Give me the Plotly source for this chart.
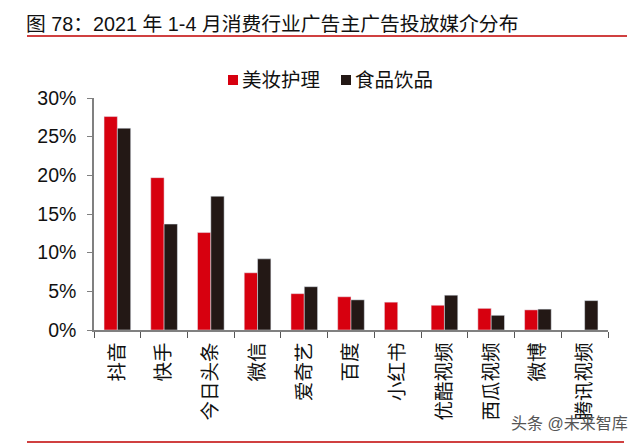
import plotly.graph_objects as go

categories = ["抖音", "快手", "今日头条", "微信", "爱奇艺", "百度", "小红书", "优酷视频", "西瓜视频", "微博", "腾讯视频"]
meizhuang = [27.6, 19.7, 12.6, 7.4, 4.7, 4.3, 3.6, 3.2, 2.8, 2.6, None]
shipin = [26.1, 13.7, 17.3, 9.2, 5.6, 3.9, None, 4.5, 1.9, 2.7, 3.8]
y_ticks = [0, 5, 10, 15, 20, 25, 30]
y_labels = ["0%", "5%", "10%", "15%", "20%", "25%", "30%"]
series_names = ["美妆护理", "食品饮品"]
RED = "#d7000f"
BLACK = "#231815"

W, H = 640, 443
PAGE = 8  # page body margin pushes the figure right and down
CJK = "Liberation Sans, Noto Sans CJK SC"

def px(x):
    return (x - PAGE) / W

def py(y):
    return 1 - (y - PAGE) / H

fig = go.Figure()
fig.add_trace(go.Bar(name=series_names[0], x=categories, y=meizhuang, marker_color=RED))
fig.add_trace(go.Bar(name=series_names[1], x=categories, y=shipin, marker_color=BLACK))

fig.update_layout(
    width=W, height=H,
    margin=dict(l=0, r=0, t=0, b=0),
    paper_bgcolor="white", plot_bgcolor="white",
    barmode="group", bargap=0.43, bargroupgap=0,
    font=dict(family=CJK, color="#111111"),
    showlegend=False,
)
fig.update_xaxes(domain=[px(94), px(608)], automargin=False, showline=True, linecolor="#808080", linewidth=1.5,
                 ticks="outside", tickson="boundaries", ticklen=6, tickcolor="#555555",
                 tickangle=-90, tickfont=dict(size=19.5), ticklabelstandoff=3, showgrid=False)
fig.update_yaxes(domain=[py(330), py(98)], automargin=False, range=[0, 30], tickvals=y_ticks, ticktext=y_labels,
                 showline=True, linecolor="#808080", linewidth=1.5, ticks="outside", ticklen=5,
                 tickcolor="#808080", tickfont=dict(size=19.5), ticklabelstandoff=7, showgrid=False, zeroline=False)

# legend drawn by hand, plotly keeps too wide a gap between swatch and text
for name, color, x_sw in zip(series_names, [RED, BLACK], [228, 341]):
    fig.add_shape(type="rect", xref="paper", yref="paper", x0=px(x_sw), x1=px(x_sw+10),
                  y0=py(85), y1=py(75), fillcolor=color, line_width=0)
    fig.add_annotation(text=name, xref="paper", yref="paper", x=px(x_sw+12), y=py(80),
                       xanchor="left", yanchor="middle", showarrow=False, font=dict(size=19.5, color="#111111"))

# title, red rules, watermark
fig.add_annotation(text="图 78：2021 年 1-4 月消费行业广告主广告投放媒介分布", xref="paper", yref="paper",
                   x=px(24), y=py(24), xanchor="left", yanchor="middle", showarrow=False,
                   font=dict(size=19.8, color="#111111"))
fig.add_shape(type="line", xref="paper", yref="paper", x0=px(27), x1=px(627), y0=py(36), y1=py(36),
              line=dict(color="#c00000", width=1.5))
fig.add_shape(type="line", xref="paper", yref="paper", x0=px(27), x1=px(624), y0=py(442), y1=py(442),
              line=dict(color="#c00000", width=1.5))
fig.add_annotation(text="头条 @未来智库", xref="paper", yref="paper", x=px(509), y=py(423),
                   xanchor="left", yanchor="middle", showarrow=False,
                   font=dict(size=16, color="#555555"))

fig.write_html("out.html")
